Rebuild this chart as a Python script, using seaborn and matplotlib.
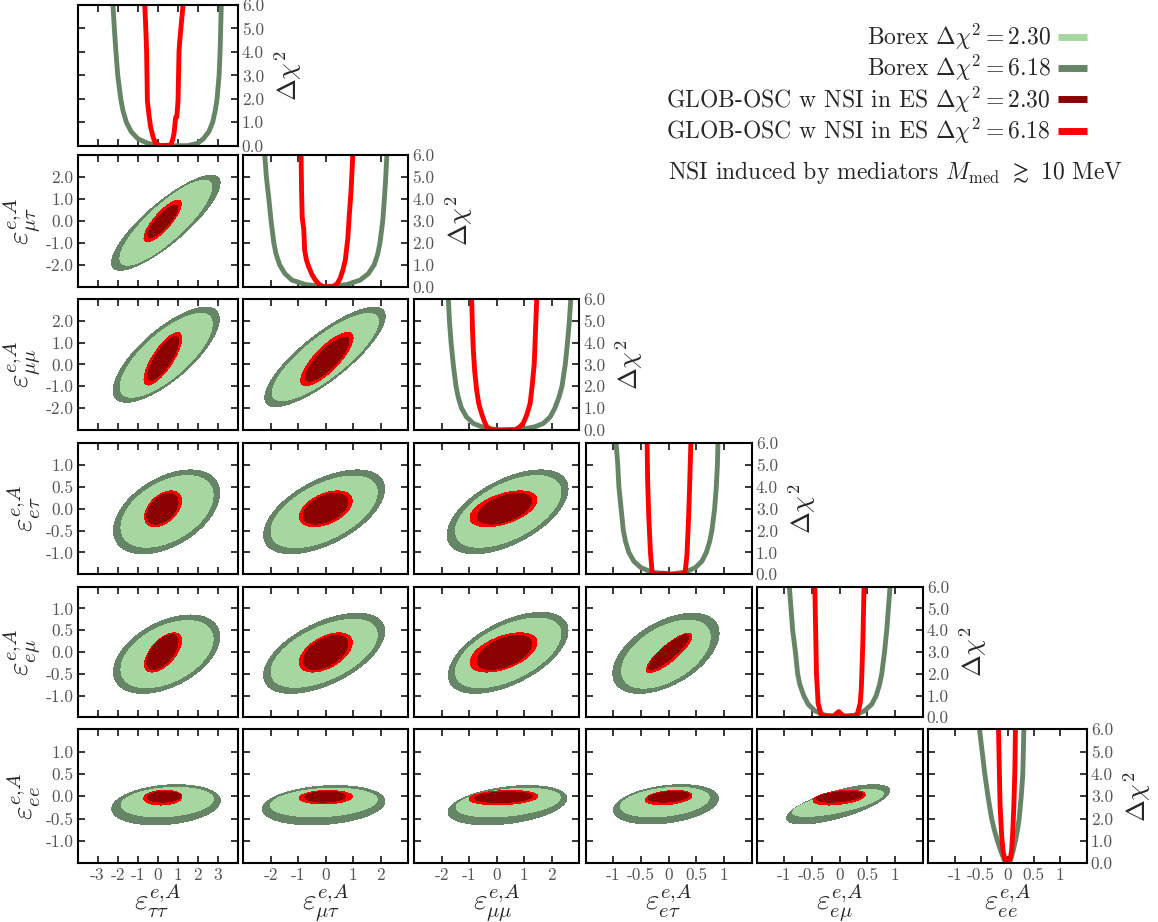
import numpy as np
import matplotlib
matplotlib.use("Agg")
import matplotlib.pyplot as plt
import seaborn as sns
from matplotlib.lines import Line2D

# --- style ---
sns.set_style("ticks")
plt.rcParams['font.family'] = ['cmr10', 'DejaVu Serif']
plt.rcParams['mathtext.fontset'] = 'cm'
plt.rcParams['axes.unicode_minus'] = False
plt.rcParams['axes.formatter.use_mathtext'] = True

LIGHT_GREEN = '#a7d7a0'
DARK_GREEN = '#668566'
DARK_RED = '#8b0000'
RED = '#ff0000'

# --- data ---
params = ['tt', 'mt', 'mm', 'et', 'em', 'ee']
axis_labels = [r'$\varepsilon^{e{,}A}_{\tau\tau}$', r'$\varepsilon^{e{,}A}_{\mu\tau}$',
               r'$\varepsilon^{e{,}A}_{\mu\mu}$', r'$\varepsilon^{e{,}A}_{e\tau}$',
               r'$\varepsilon^{e{,}A}_{e\mu}$', r'$\varepsilon^{e{,}A}_{ee}$']
ranges = [(-4, 4), (-3, 3), (-3, 3), (-1.5, 1.5), (-1.5, 1.5), (-1.5, 1.5)]
tick_vals = [[-3, -2, -1, 0, 1, 2, 3], [-2, -1, 0, 1, 2], [-2, -1, 0, 1, 2],
             [-1, -0.5, 0, 0.5, 1], [-1, -0.5, 0, 0.5, 1], [-1, -0.5, 0, 0.5, 1]]
xtick_labels = [['-3', '-2', '-1', '0', '1', '2', '3'], ['-2', '-1', '0', '1', '2'],
                ['-2', '-1', '0', '1', '2'], ['-1', '-0.5', '0', '0.5', '1'],
                ['-1', '-0.5', '0', '0.5', '1'], ['-1', '-0.5', '0', '0.5', '1']]
ytick_labels = [None, ['-2.0', '-1.0', '0.0', '1.0', '2.0'], ['-2.0', '-1.0', '0.0', '1.0', '2.0'],
                ['-1.0', '-0.5', '0.0', '0.5', '1.0'], ['-1.0', '-0.5', '0.0', '0.5', '1.0'],
                ['-1.0', '-0.5', '0.0', '0.5', '1.0']]
chi_ticks = [0, 1, 2, 3, 4, 5, 6]
chi_labels = ['0.0', '1.0', '2.0', '3.0', '4.0', '5.0', '6.0']

# 1D profiles (x, delta chi2)
borex_x = {
    'tt': [-2.23, -2.16, -2.08, -1.99, -1.84, -1.73, -1.56, -1.32, -0.99, -0.49, 0.15, 0.8, 1.49,
           1.99, 2.29, 2.56, 2.75, 2.88, 2.97, 3.07, 3.12, 3.15, 3.18],
    'mt': [-2.22, -2.16, -2.07, -1.99, -1.89, -1.81, -1.68, -1.49, -1.23, -0.74, 0.0, 0.77, 1.25,
           1.55, 1.76, 1.89, 1.97, 2.07, 2.13, 2.18, 2.22],
    'mm': [-1.76, -1.72, -1.66, -1.58, -1.48, -1.4, -1.28, -1.1, -0.85, -0.45, 0.1, 1.0, 1.4,
           1.7, 1.95, 2.12, 2.27, 2.38, 2.5, 2.58, 2.65, 2.7],
    'et': [-0.95, -0.92, -0.9, -0.86, -0.82, -0.78, -0.72, -0.63, -0.5, -0.3, 0.0, 0.3, 0.48,
           0.6, 0.68, 0.74, 0.78, 0.83, 0.86, 0.88, 0.89],
    'em': [-0.91, -0.88, -0.85, -0.8, -0.76, -0.72, -0.65, -0.57, -0.45, -0.27, 0.0, 0.27, 0.45,
           0.58, 0.66, 0.72, 0.76, 0.81, 0.85, 0.88, 0.91],
    'ee': [-0.53, -0.48, -0.43, -0.37, -0.3, -0.25, -0.19, -0.12, -0.06, 0.0, 0.06, 0.1, 0.15,
           0.19, 0.22, 0.26, 0.29, 0.3, 0.31],
}
borex_chi = {
    'tt': [6.0, 5.0, 4.0, 3.0, 2.0, 1.5, 1.0, 0.6, 0.3, 0.1, 0.0, 0.0, 0.0,
           0.1, 0.3, 0.6, 1.0, 1.5, 2.0, 3.0, 4.0, 5.0, 6.0],
    'mt': [6.0, 5.0, 4.0, 3.0, 2.0, 1.5, 1.0, 0.6, 0.3, 0.1, 0.0, 0.1, 0.3,
           0.6, 1.0, 1.5, 2.0, 3.0, 4.0, 5.0, 6.0],
    'mm': [6.0, 5.0, 4.0, 3.0, 2.0, 1.5, 1.0, 0.6, 0.3, 0.1, 0.0, 0.05, 0.15,
           0.3, 0.6, 1.0, 1.5, 2.0, 3.0, 4.0, 5.0, 6.0],
    'et': [6.0, 5.0, 4.0, 3.0, 2.0, 1.5, 1.0, 0.6, 0.3, 0.1, 0.0, 0.1, 0.3,
           0.6, 1.0, 1.5, 2.0, 3.0, 4.0, 5.0, 6.0],
    'em': [6.0, 5.0, 4.0, 3.0, 2.0, 1.5, 1.0, 0.6, 0.3, 0.1, 0.0, 0.1, 0.3,
           0.6, 1.0, 1.5, 2.0, 3.0, 4.0, 5.0, 6.0],
    'ee': [6.0, 5.0, 4.0, 3.0, 2.0, 1.5, 1.0, 0.5, 0.15, 0.0, 0.15, 0.5, 1.0,
           1.5, 2.0, 3.0, 4.0, 5.0, 6.0],
}
glob_x = {
    'tt': [-0.64, -0.58, -0.55, -0.51, -0.43, -0.35, -0.22, -0.1, 0.15, 0.65, 0.75, 0.82, 0.9,
           0.96, 1.02, 1.07, 1.12, 1.27],
    'mt': [-0.9, -0.88, -0.86, -0.8, -0.77, -0.7, -0.62, -0.5, -0.38, -0.22, -0.08, 0.28, 0.42,
           0.52, 0.62, 0.71, 0.8, 0.85, 0.92, 0.98],
    'mm': [-0.91, -0.88, -0.85, -0.8, -0.73, -0.65, -0.55, -0.45, -0.36, -0.22, -0.06, 0.67,
           0.85, 0.97, 1.1, 1.22, 1.3, 1.37, 1.46],
    'et': [-0.39, -0.38, -0.36, -0.33, -0.3, -0.24, -0.1, 0.05, 0.24, 0.3, 0.33, 0.36, 0.38, 0.4],
    'em': [-0.45, -0.43, -0.42, -0.39, -0.33, -0.11, -0.02, 0.07, 0.31, 0.37, 0.39, 0.4, 0.42, 0.44],
    'ee': [-0.17, -0.16, -0.15, -0.14, -0.11, -0.08, -0.04, 0.02, 0.06, 0.08, 0.1, 0.12, 0.14, 0.15],
}
glob_chi = {
    'tt': [6.0, 4.8, 4.03, 1.92, 1.3, 0.8, 0.35, 0.1, 0.0, 0.03, 0.25, 0.52, 1.2,
           1.22, 1.92, 4.03, 4.6, 6.0],
    'mt': [6.0, 4.3, 3.19, 2.6, 1.67, 1.2, 0.91, 0.55, 0.3, 0.08, 0.0, 0.0, 0.15,
           0.38, 0.75, 1.22, 2.2, 3.19, 4.41, 6.0],
    'mm': [6.0, 4.6, 3.66, 2.7, 1.83, 1.2, 0.76, 0.4, 0.15, 0.03, 0.0, 0.0,
           0.15, 0.31, 0.7, 1.22, 2.1, 3.05, 6.0],
    'et': [6.0, 4.2, 2.63, 1.0, 0.1, 0.0, 0.05, 0.0, 0.0, 0.15, 0.9, 2.63, 4.2, 6.0],
    'em': [6.0, 3.4, 2.0, 0.64, 0.06, 0.06, 0.26, 0.06, 0.06, 0.64, 1.3, 2.0, 3.6, 6.0],
    'ee': [6.0, 4.8, 3.6, 2.57, 1.2, 0.48, 0.1, 0.0, 0.3, 0.63, 1.4, 2.57, 4.2, 6.0],
}

# 2D allowed regions, (y, x) pairs: (x centre, y centre, x half-extent, y half-extent, correlation)
borex_618 = {
    ('mt', 'tt'): (0.41, -0.08, 2.71, 2.17, 0.84),
    ('mm', 'tt'): (0.43, 0.45, 2.65, 2.18, 0.75),
    ('mm', 'mt'): (-0.03, 0.35, 2.19, 2.28, 0.82),
    ('et', 'tt'): (0.45, -0.07, 2.65, 0.96, 0.45),
    ('et', 'mt'): (-0.06, -0.07, 2.2, 0.96, 0.55),
    ('et', 'mm'): (0.40, -0.07, 2.2, 0.96, 0.55),
    ('em', 'tt'): (0.45, -0.05, 2.65, 0.9, 0.45),
    ('em', 'mt'): (-0.06, -0.03, 2.2, 0.92, 0.55),
    ('em', 'mm'): (0.42, -0.02, 2.18, 0.93, 0.55),
    ('em', 'et'): (-0.05, -0.03, 0.96, 0.92, 0.5),
    ('ee', 'tt'): (0.42, -0.19, 2.71, 0.45, 0.2),
    ('ee', 'mt'): (-0.08, -0.2, 2.23, 0.44, 0.2),
    ('ee', 'mm'): (0.39, -0.2, 2.16, 0.44, 0.35),
    ('ee', 'et'): (-0.05, -0.18, 0.95, 0.44, 0.3),
    ('ee', 'em'): (-0.03, -0.18, 0.93, 0.44, 0.7),
}
borex_230 = {
    ('mt', 'tt'): (0.41, -0.08, 2.29, 1.94, 0.84),
    ('mm', 'tt'): (0.43, 0.42, 2.30, 1.92, 0.75),
    ('mm', 'mt'): (-0.02, 0.34, 1.93, 2.0, 0.82),
    ('et', 'tt'): (0.47, -0.06, 2.30, 0.82, 0.45),
    ('et', 'mt'): (-0.06, -0.07, 1.93, 0.82, 0.55),
    ('et', 'mm'): (0.42, -0.06, 1.92, 0.82, 0.55),
    ('em', 'tt'): (0.47, -0.05, 2.3, 0.77, 0.45),
    ('em', 'mt'): (-0.06, -0.03, 1.93, 0.78, 0.55),
    ('em', 'mm'): (0.42, -0.02, 1.92, 0.8, 0.55),
    ('em', 'et'): (-0.05, -0.05, 0.8, 0.78, 0.5),
    ('ee', 'tt'): (0.48, -0.13, 2.3, 0.33, 0.2),
    ('ee', 'mt'): (-0.07, -0.14, 1.94, 0.32, 0.2),
    ('ee', 'mm'): (0.42, -0.14, 1.9, 0.32, 0.35),
    ('ee', 'et'): (-0.07, -0.13, 0.8, 0.33, 0.3),
    ('ee', 'em'): (-0.03, -0.15, 0.82, 0.3, 0.7),
}
glob_618 = {
    ('mt', 'tt'): (0.25, 0.0, 0.93, 0.95, 0.82),
    ('mm', 'tt'): (0.26, 0.26, 0.94, 1.20, 0.78),
    ('mm', 'mt'): (0.04, 0.25, 0.95, 1.22, 0.8),
    ('et', 'tt'): (0.27, 0.0, 0.92, 0.41, 0.45),
    ('et', 'mt'): (0.0, 0.0, 0.96, 0.41, 0.45),
    ('et', 'mm'): (0.25, 0.0, 1.22, 0.41, 0.5),
    ('em', 'tt'): (0.27, -0.01, 0.92, 0.45, 0.6),
    ('em', 'mt'): (0.0, -0.01, 0.96, 0.45, 0.5),
    ('em', 'mm'): (0.25, -0.01, 1.22, 0.45, 0.5),
    ('em', 'et'): (0.01, -0.02, 0.41, 0.45, 0.85),
    ('ee', 'tt'): (0.26, -0.03, 0.95, 0.165, 0.1),
    ('ee', 'mt'): (0.0, -0.02, 0.96, 0.15, 0.1),
    ('ee', 'mm'): (0.25, -0.03, 1.25, 0.16, 0.2),
    ('ee', 'et'): (0.0, -0.03, 0.42, 0.16, 0.3),
    ('ee', 'em'): (-0.01, -0.03, 0.47, 0.165, 0.4),
}
glob_230 = {
    ('mt', 'tt'): (0.25, -0.02, 0.75, 0.74, 0.84),
    ('mm', 'tt'): (0.27, 0.27, 0.77, 1.0, 0.8),
    ('mm', 'mt'): (0.05, 0.24, 0.79, 1.0, 0.82),
    ('et', 'tt'): (0.24, 0.0, 0.78, 0.35, 0.45),
    ('et', 'mt'): (-0.01, 0.0, 0.81, 0.35, 0.45),
    ('et', 'mm'): (0.29, 0.0, 0.98, 0.35, 0.5),
    ('em', 'tt'): (0.24, 0.0, 0.78, 0.4, 0.6),
    ('em', 'mt'): (-0.01, -0.01, 0.81, 0.39, 0.5),
    ('em', 'mm'): (0.28, -0.01, 0.99, 0.39, 0.5),
    ('em', 'et'): (0.0, 0.0, 0.36, 0.4, 0.88),
    ('ee', 'tt'): (0.31, -0.01, 0.84, 0.12, 0.1),
    ('ee', 'mt'): (-0.02, -0.01, 0.74, 0.12, 0.1),
    ('ee', 'mm'): (0.25, -0.02, 1.05, 0.12, 0.2),
    ('ee', 'et'): (0.0, -0.01, 0.37, 0.12, 0.3),
    ('ee', 'em'): (0.0, -0.01, 0.42, 0.12, 0.4),
}

# --- layout (pixels) ---
W, H = 1158, 922
lefts = [77.5, 243.3, 414.3, 585.7, 756.7, 928.3]
rights = [237.7, 408.3, 579.0, 751.7, 922.7, 1086.7]
tops = [5.0, 155.3, 299.0, 443.3, 586.7, 729.3]
bottoms = [145.7, 286.7, 430.0, 574.3, 717.3, 863.3]


def fill_region(ax, xr, yr, p, color):
    cx, cy, sx, sy, r = p
    X, Y = np.meshgrid(np.linspace(xr[0], xr[1], 500), np.linspace(yr[0], yr[1], 500))
    u = (X - cx) / sx
    v = (Y - cy) / sy
    q = (u * u - 2 * r * u * v + v * v) / (1 - r * r)
    ax.contourf(X, Y, q, levels=[-1, 1], colors=[color])


def style_axes(ax):
    for s in ax.spines.values():
        s.set_linewidth(1.5)
        s.set_color('black')
    ax.tick_params(direction='in', length=5, width=1.3, top=True, right=True,
                   bottom=True, left=True, labelsize=12.5, labelcolor='#555555',
                   pad=3)


fig = plt.figure(figsize=(W / 100, H / 100), dpi=100)

for i in range(6):
    for j in range(i + 1):
        ax = fig.add_axes([lefts[j] / W, 1 - bottoms[i] / H,
                           (rights[j] - lefts[j]) / W, (bottoms[i] - tops[i]) / H])
        style_axes(ax)
        xr = ranges[j]
        ax.set_xticks(tick_vals[j])
        if i == 5:
            ax.set_xticklabels(xtick_labels[j])
            ax.set_xlabel(axis_labels[j], fontsize=21, labelpad=0)
        else:
            ax.tick_params(labelbottom=False)

        if i == j:
            p = params[i]
            sns.lineplot(x=borex_x[p], y=borex_chi[p], ax=ax, color=DARK_GREEN,
                         lw=3.5, sort=False, estimator=None, legend=False)
            sns.lineplot(x=glob_x[p], y=glob_chi[p], ax=ax, color=RED,
                         lw=3.5, sort=False, estimator=None, legend=False)
            ax.set_ylim(0, 6)
            ax.set_yticks(chi_ticks)
            ax.set_yticklabels(chi_labels)
            ax.tick_params(labelleft=False, labelright=True)
            ax.yaxis.set_label_position('right')
            ax.set_ylabel(r'$\Delta\chi^2$', fontsize=19, labelpad=6)
        else:
            yr = ranges[i]
            key = (params[i], params[j])
            fill_region(ax, xr, yr, borex_618[key], DARK_GREEN)
            fill_region(ax, xr, yr, borex_230[key], LIGHT_GREEN)
            fill_region(ax, xr, yr, glob_618[key], RED)
            fill_region(ax, xr, yr, glob_230[key], DARK_RED)
            ax.set_ylim(*yr)
            ax.set_yticks(tick_vals[i])
            if j == 0:
                ax.set_yticklabels(ytick_labels[i])
                ax.set_ylabel(axis_labels[i], fontsize=21, labelpad=2)
            else:
                ax.tick_params(labelleft=False)
        ax.set_xlim(*xr)

# --- legend ---
handles = [Line2D([], [], color=c, lw=5, solid_capstyle='butt')
           for c in [LIGHT_GREEN, DARK_GREEN, DARK_RED, RED]]
labels = [r'Borex $\Delta\chi^2 = 2.30$', r'Borex $\Delta\chi^2 = 6.18$',
          r'GLOB-OSC w NSI in ES $\Delta\chi^2 = 2.30$',
          r'GLOB-OSC w NSI in ES $\Delta\chi^2 = 6.18$']
fig.legend(handles, labels, loc='upper right', bbox_to_anchor=(1099 / W, 1 - 10 / H),
           frameon=False, markerfirst=False, fontsize=17, handlelength=1.25,
           handletextpad=0.3, labelspacing=0.05, borderpad=0)
fig.text(1123 / W, 1 - 172 / H, r'NSI induced by mediators $M_{\rm med}$ $\gtrsim$ 10 MeV',
         ha='right', va='center', fontsize=17)

fig.savefig('out.png', dpi=100)
